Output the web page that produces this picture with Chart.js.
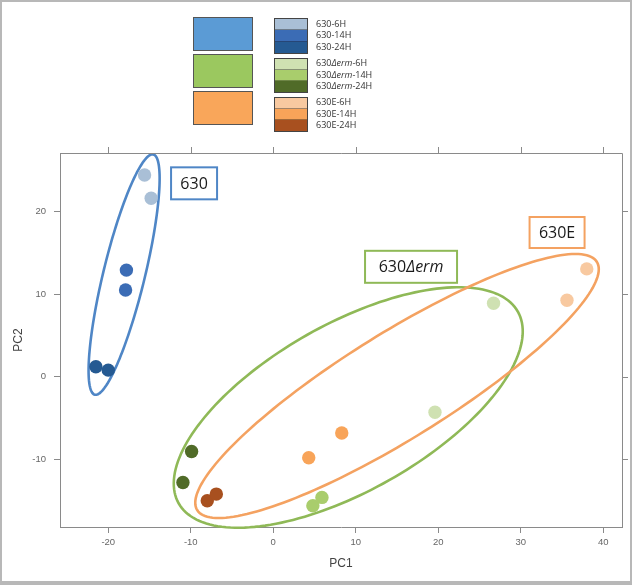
<!DOCTYPE html>
<html>
<head>
<meta charset="utf-8">
<script src="https://cdn.jsdelivr.net/npm/chart.js@4.4.0/dist/chart.umd.min.js"></script>
<style>
  html, body { margin: 0; padding: 0; background: #fff; }
  #wrap { position: relative; width: 642px; height: 585px; overflow: hidden; font-family: "Open Sans", sans-serif; }
  #frame { position: absolute; left: 0; top: 0; width: 628px; height: 579px; border: 2px solid #b8b8b8; border-bottom-width: 4px; pointer-events: none; }
  canvas { position: absolute; left: 0; top: 0; }
  .big { position: absolute; left: 193px; width: 58px; border: 1px solid #555; }
  .grp { position: absolute; left: 274px; width: 32px; border: 1px solid #444; }
  .sw { height: 11.3px; border-bottom: 1px solid rgba(0,0,0,0.35); box-sizing: border-box; }
  .sw:last-child { border-bottom: none; }
  .lab { position: absolute; left: 316px; font-size: 9px; line-height: 11.5px; color: #333; white-space: nowrap; }
</style>
</head>
<body>
<div id="wrap">
  <canvas id="pcaChart" width="642" height="585"></canvas>
  <div id="legend"></div>
  <div id="frame"></div>
</div>
<script>
// samples, 2 replicates each
const seriesNames = ['630-6H', '630-14H', '630-24H',
  '630\u0394erm-6H', '630\u0394erm-14H', '630\u0394erm-24H',
  '630E-6H', '630E-14H', '630E-24H'];
const seriesColors = ['#a9bfd6', '#3b6cb5', '#255a92',
  '#cfe1b2', '#a9cd6c', '#506b28',
  '#f8c9a0', '#f8a459', '#a8501f'];
const pc1Values = [[-15.6, -14.8], [-17.8, -17.9], [-21.5, -20.0],
  [19.6, 26.7], [4.8, 5.9], [-9.9, -10.95],
  [38.0, 35.6], [4.3, 8.3], [-8.0, -6.9]];
const pc2Values = [[24.4, 21.6], [12.9, 10.5], [1.2, 0.8],
  [-4.3, 8.9], [-15.6, -14.6], [-9.05, -12.8],
  [13.05, 9.25], [-9.8, -6.8], [-15.0, -14.2]];

const groupNames = ['630', '630\u0394erm', '630E'];
const groupColors = ['#5b9bd5', '#9bc85f', '#f9a65a'];
const ellipseColors = ['#4f86c6', '#8fb957', '#f4a261'];
// ellipse per group: center (PC1, PC2), semi axes, tilt in degrees
const ellipseCenters = [[-18.08, 12.36], [9.09, -3.72], [15.0, -1.12]];
const ellipseAxes = [[14.96, 2.52], [23.6, 10.1], [28.5, 6.4]];
const ellipseAngles = [76.3, 29.4, 31.8];

const xTicks = [-20, -10, 0, 10, 20, 30, 40];
const yTicks = [-10, 0, 10, 20];

function nameHtml(name) {
    return name.replace('\u0394erm', '<i>\u0394erm</i>');
}

function buildLegend() {
    const legend = document.getElementById('legend');
    const bigTops = [17, 54, 91];
    const grpTops = [18, 57.5, 96.5];
    groupNames.forEach((g, i) => {
        const big = document.createElement('div');
        big.className = 'big';
        big.style.top = bigTops[i] + 'px';
        big.style.height = '32px';
        big.style.background = groupColors[i];
        legend.appendChild(big);

        const grp = document.createElement('div');
        grp.className = 'grp';
        grp.style.top = grpTops[i] + 'px';
        for (let k = 0; k < 3; k++) {
            const sw = document.createElement('div');
            sw.className = 'sw';
            sw.style.background = seriesColors[i * 3 + k];
            grp.appendChild(sw);

            const lab = document.createElement('div');
            lab.className = 'lab';
            lab.style.top = (grpTops[i] + k * 11.5 - 0.5) + 'px';
            lab.innerHTML = nameHtml(seriesNames[i * 3 + k]);
            legend.appendChild(lab);
        }
        legend.appendChild(grp);
    });
}

const ellipsePlugin = {
    id: 'ellipses',
    beforeDatasetsDraw(chart) {
        const {ctx, scales: {x, y}} = chart;
        ctx.save();
        ellipseCenters.forEach((c, i) => {
            const [a, b] = ellipseAxes[i];
            const t = ellipseAngles[i] * Math.PI / 180;
            ctx.beginPath();
            for (let s = 0; s <= 180; s++) {
                const u = s / 180 * 2 * Math.PI;
                const dx = a * Math.cos(u) * Math.cos(t) - b * Math.sin(u) * Math.sin(t);
                const dy = a * Math.cos(u) * Math.sin(t) + b * Math.sin(u) * Math.cos(t);
                const px = x.getPixelForValue(c[0] + dx);
                const py = y.getPixelForValue(c[1] + dy);
                if (s === 0) ctx.moveTo(px, py); else ctx.lineTo(px, py);
            }
            ctx.closePath();
            ctx.lineWidth = 2.6;
            ctx.strokeStyle = ellipseColors[i];
            ctx.stroke();
        });
        ctx.restore();
    }
};

const boxPlugin = {
    id: 'groupBoxes',
    afterDatasetsDraw(chart, args, opts) {
        const {ctx, scales: {x, y}} = chart;
        ctx.save();
        opts.boxes.forEach((bx, i) => {
            const cx = x.getPixelForValue(bx.x);
            const cy = y.getPixelForValue(bx.y);
            ctx.lineWidth = 2;
            ctx.strokeStyle = ellipseColors[i];
            ctx.fillStyle = '#fff';
            ctx.fillRect(cx - bx.w / 2, cy - bx.h / 2, bx.w, bx.h);
            ctx.strokeRect(cx - bx.w / 2, cy - bx.h / 2, bx.w, bx.h);
            const name = groupNames[i];
            const parts = name.split('\u0394');
            const normal = '16px "Open Sans"';
            const ital = 'italic 16px "Open Sans"';
            ctx.font = normal;
            let w = ctx.measureText(parts[0]).width;
            let w2 = 0;
            if (parts.length > 1) {
                ctx.font = ital;
                w2 = ctx.measureText('\u0394' + parts[1]).width;
            }
            let sx = cx - (w + w2) / 2;
            ctx.fillStyle = '#1a1a1a';
            ctx.textBaseline = 'middle';
            ctx.textAlign = 'left';
            ctx.font = normal;
            ctx.fillText(parts[0], sx, cy + 1);
            if (parts.length > 1) {
                ctx.font = ital;
                ctx.fillText('\u0394' + parts[1], sx + w, cy + 1);
            }
        });
        ctx.restore();
    }
};

const framePlugin = {
    id: 'boxFrame',
    afterDraw(chart) {
        const {ctx, chartArea: {left, right, top, bottom}, scales: {x, y}} = chart;
        ctx.save();
        ctx.strokeStyle = '#8a8a8a';
        ctx.lineWidth = 1;
        ctx.beginPath();
        ctx.moveTo(left, top + 0.5);
        ctx.lineTo(right + 0.5, top + 0.5);
        ctx.lineTo(right + 0.5, bottom);
        xTicks.forEach(v => {
            const px = Math.round(x.getPixelForValue(v)) + 0.5;
            ctx.moveTo(px, top);
            ctx.lineTo(px, top - 6);
        });
        yTicks.forEach(v => {
            const py = Math.round(y.getPixelForValue(v)) + 0.5;
            ctx.moveTo(right, py);
            ctx.lineTo(right + 6, py);
        });
        ctx.stroke();
        ctx.restore();
    }
};

function initChart() {
    const ctx = document.getElementById('pcaChart').getContext('2d');
    const datasets = seriesNames.map((name, i) => ({
        label: name,
        data: pc1Values[i].map((v, k) => ({x: v, y: pc2Values[i][k]})),
        backgroundColor: seriesColors[i],
        borderColor: seriesColors[i],
        borderWidth: 0,
        pointRadius: 6.7,
        pointHoverRadius: 6.7
    }));

    new Chart(ctx, {
        type: 'scatter',
        data: {datasets: datasets},
        options: {
            responsive: false,
            animation: false,
            events: [],
            layout: {padding: {top: 153, right: 20, left: 0, bottom: 0}},
            plugins: {
                legend: {display: false},
                tooltip: {enabled: false},
                groupBoxes: {
                    boxes: [
                        {x: -9.6, y: 23.4, w: 46, h: 32},
                        {x: 16.7, y: 13.3, w: 92, h: 32},
                        {x: 34.4, y: 17.45, w: 55, h: 31}
                    ]
                }
            },
            scales: {
                x: {
                    type: 'linear',
                    min: -25.85,
                    max: 42.27,
                    afterBuildTicks: s => { s.ticks = xTicks.map(v => ({value: v})); },
                    afterFit: s => { s.height = 58; },
                    grid: {drawOnChartArea: false, drawTicks: true, tickLength: 6, color: '#8a8a8a'},
                    border: {color: '#8a8a8a'},
                    ticks: {color: '#666', font: {size: 9.5, family: 'Arial'}, padding: 4, maxRotation: 0},
                    title: {display: true, text: 'PC1', color: '#444', font: {size: 12, family: 'Arial'}, padding: {bottom: 14}}
                },
                y: {
                    type: 'linear',
                    min: -18.18,
                    max: 27.07,
                    afterBuildTicks: s => { s.ticks = yTicks.map(v => ({value: v})); },
                    afterFit: s => { s.width = 60; },
                    grid: {drawOnChartArea: false, drawTicks: true, tickLength: 6, color: '#8a8a8a'},
                    border: {color: '#8a8a8a'},
                    ticks: {color: '#666', font: {size: 9.5, family: 'Arial'}, padding: 8},
                    title: {display: true, text: 'PC2', color: '#444', font: {size: 12, family: 'Arial'}, padding: {top: 11}}
                }
            }
        },
        plugins: [ellipsePlugin, boxPlugin, framePlugin]
    });
}

document.addEventListener('DOMContentLoaded', () => {
    buildLegend();
    initChart();
});
</script>
</body>
</html>
